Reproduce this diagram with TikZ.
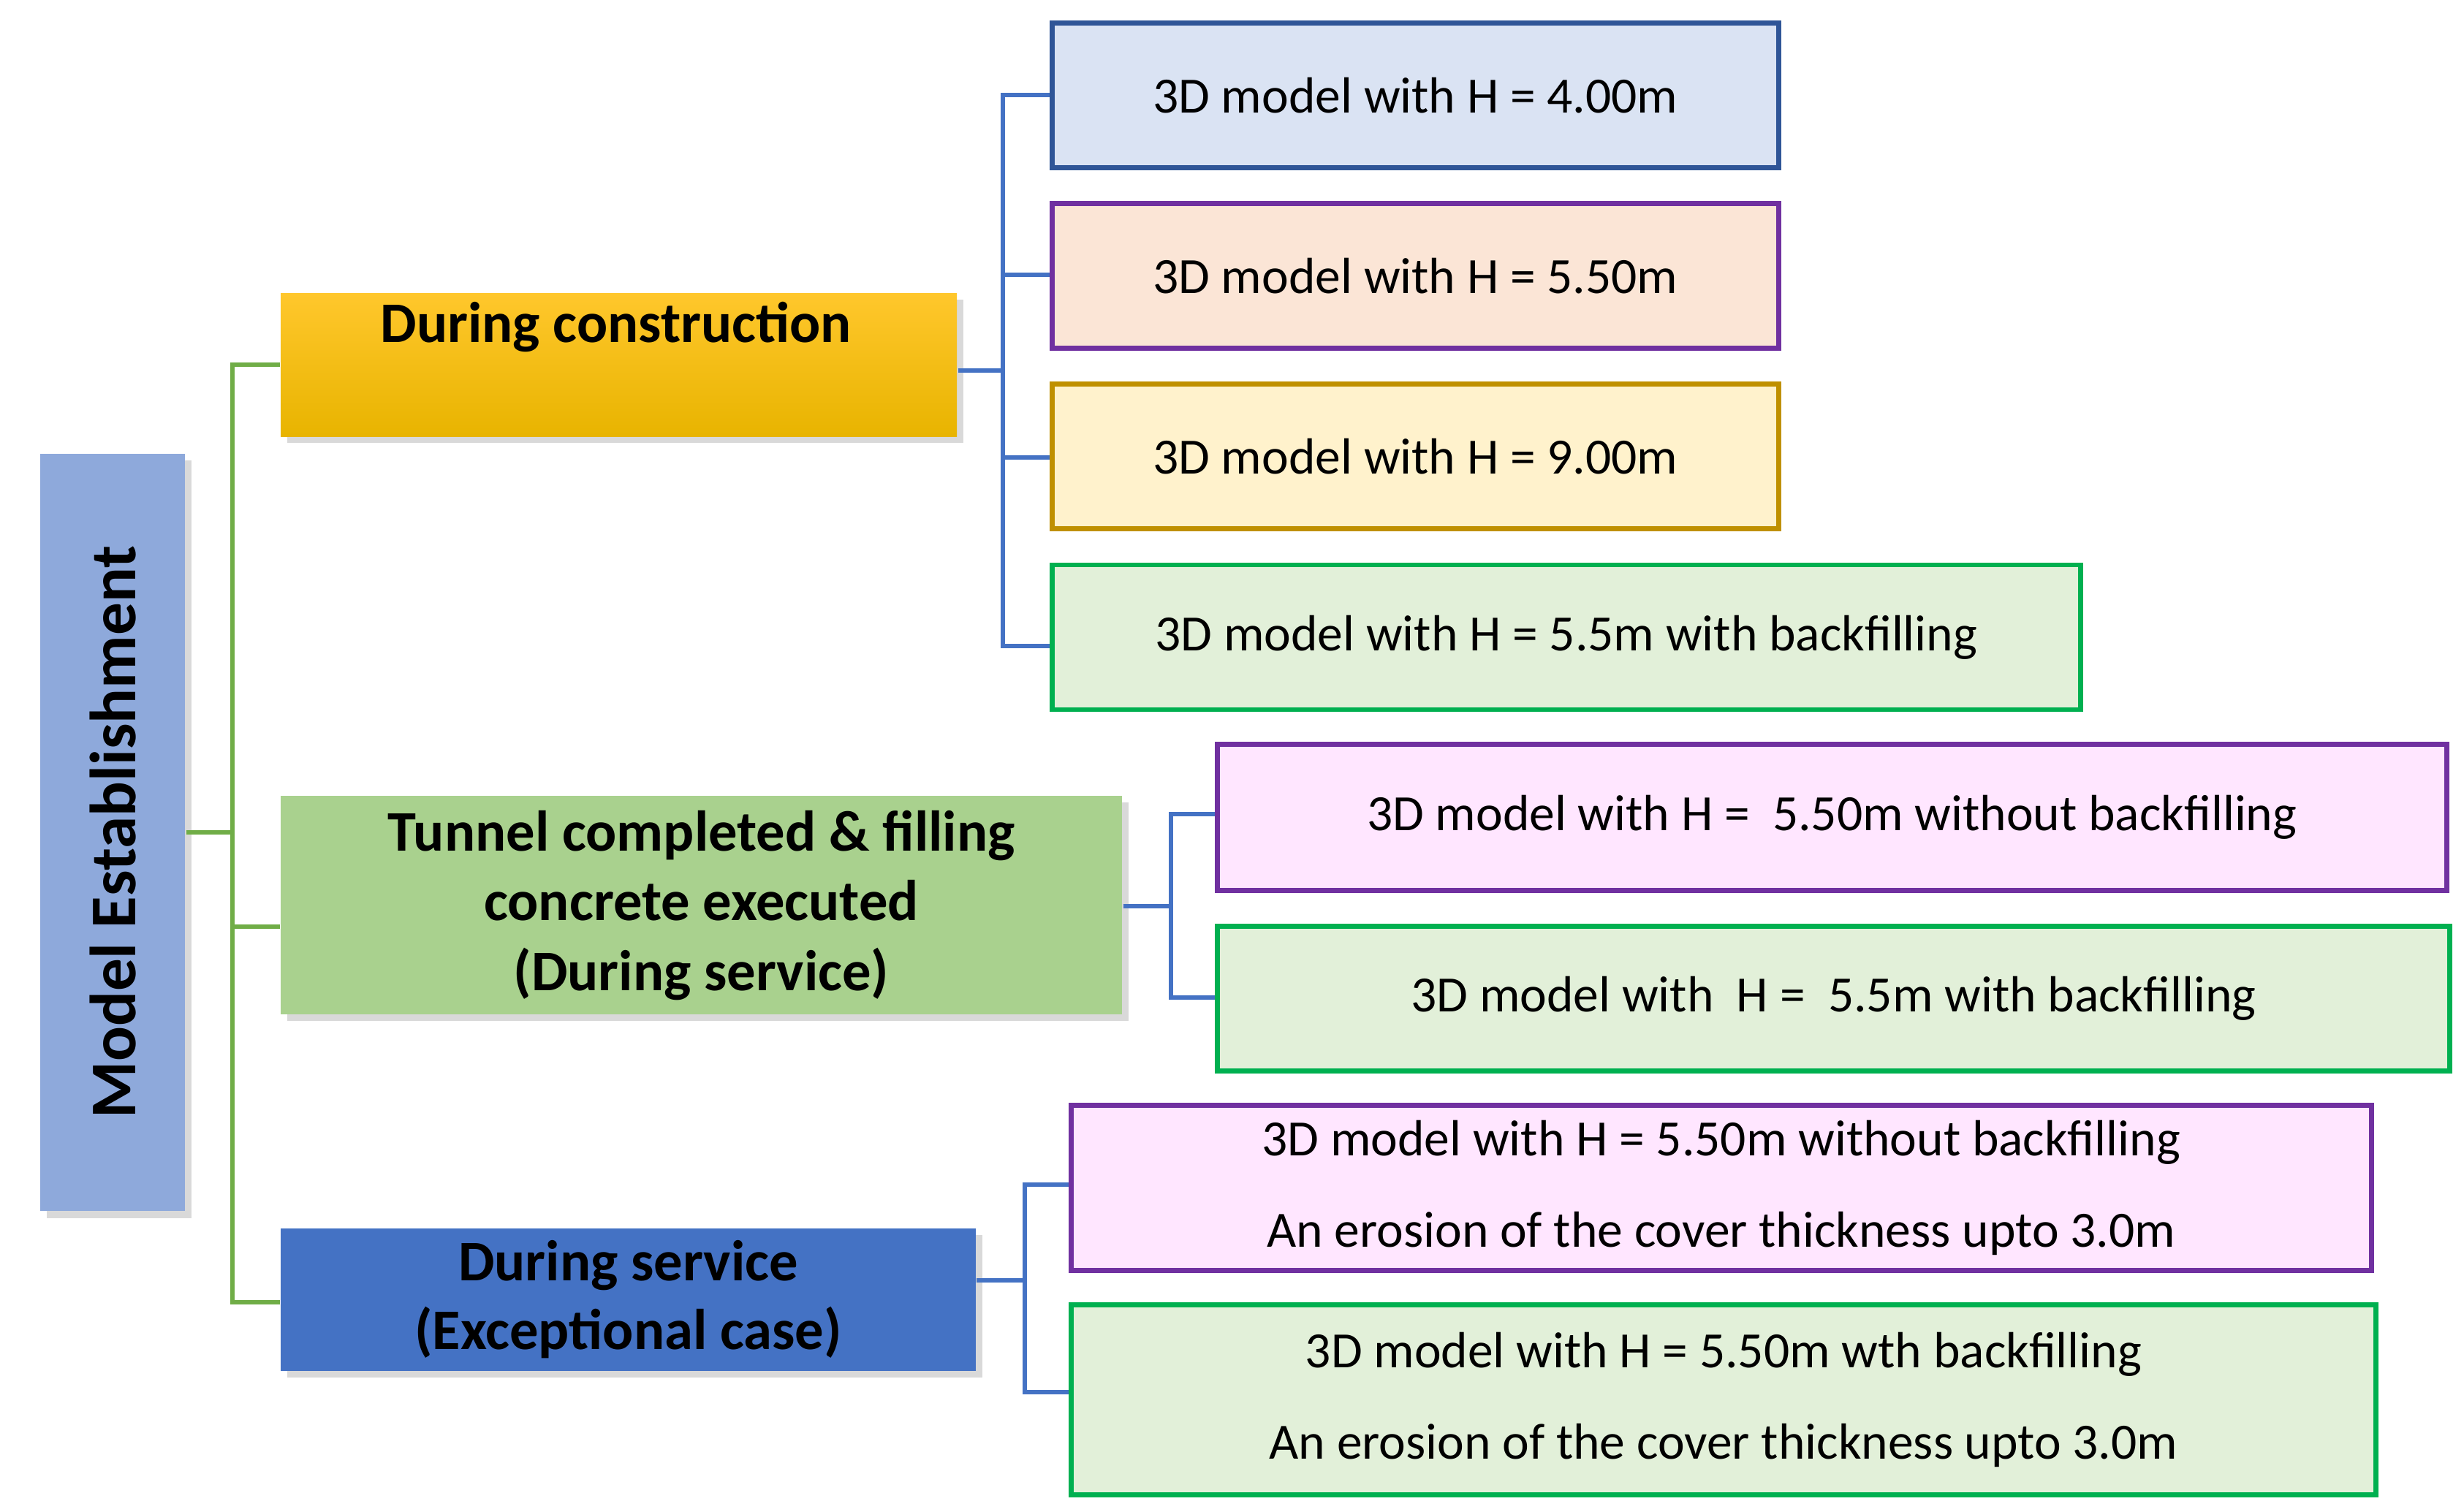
\documentclass[tikz,border=0pt]{standalone}
\usepackage{fontspec}
\setmainfont{Carlito}
\usetikzlibrary{shadows}
\definecolor{gline}{HTML}{70AD47}
\definecolor{bline}{HTML}{4472C4}
\definecolor{cme}{HTML}{8EA9DB}
\definecolor{cdct}{HTML}{FFC72C}
\definecolor{cdcb}{HTML}{E8B400}
\definecolor{ctc}{HTML}{A9D18E}
\definecolor{cds}{HTML}{4472C4}
\definecolor{dblue}{HTML}{2F5597}
\definecolor{lblue}{HTML}{DAE3F3}
\definecolor{purp}{HTML}{7030A0}
\definecolor{lorange}{HTML}{FBE5D6}
\definecolor{dgold}{HTML}{BF9000}
\definecolor{lyellow}{HTML}{FFF2CC}
\definecolor{grn}{HTML}{00B050}
\definecolor{lgreen}{HTML}{E2F0D9}
\definecolor{lpink}{HTML}{FFE6FF}
\begin{document}
\begin{tikzpicture}[x=0.01cm,y=-0.01cm,
  lbox/.style={anchor=north west,inner sep=0,drop shadow={shadow xshift=1.2pt,shadow yshift=-1.2pt,opacity=0.3}},
  rbox/.style={draw,line width=0.9pt,anchor=north west,inner sep=0,font=\fontsize{9.2}{11}\selectfont},
  gl/.style={gline,line width=0.8pt},
  bl/.style={bline,line width=0.8pt}]
\useasboundingbox (0,0) rectangle (1568,962);
\node[lbox,fill=cme,minimum width=0.92cm,minimum height=4.82cm] (me) at (25,288) {};
\node[rotate=90,font=\bfseries\fontsize{11.8}{14}\selectfont] at (me.center) {Model Establishment};
\node[lbox,top color=cdct,bottom color=cdcb,minimum width=4.30cm,minimum height=0.91cm] (dc) at (178,186) {};
\node[font=\bfseries\fontsize{10.4}{12}\selectfont] at (392,208) {During construction};
\node[lbox,fill=ctc,minimum width=5.35cm,minimum height=1.39cm,font=\bfseries\fontsize{10.4}{12.6}\selectfont,align=center] (tc) at (178,506) {Tunnel completed \& filling\\concrete executed\\(During service)};
\node[lbox,fill=cds,minimum width=4.42cm,minimum height=0.91cm,font=\bfseries\fontsize{10.4}{12.4}\selectfont,align=center] (ds) at (178,781) {During service\\(Exceptional case)};
\node[rbox,draw=dblue,fill=lblue,minimum width=4.62cm,minimum height=0.92cm] (b1) at (668,13) {3D model with H = 4.00m};
\node[rbox,draw=purp,fill=lorange,minimum width=4.62cm,minimum height=0.92cm] (b2) at (668,128) {3D model with H = 5.50m};
\node[rbox,draw=dgold,fill=lyellow,minimum width=4.62cm,minimum height=0.92cm] (b3) at (668,243) {3D model with H = 9.00m};
\node[rbox,draw=grn,fill=lgreen,minimum width=6.54cm,minimum height=0.92cm] (b4) at (668,358) {3D model with H = 5.5m with backfilling};
\node[rbox,draw=purp,fill=lpink,minimum width=7.82cm,minimum height=0.93cm] (b5) at (773,472) {3D model with H = \ 5.50m without backfilling};
\node[rbox,draw=grn,fill=lgreen,minimum width=7.84cm,minimum height=0.92cm] (b6) at (773,588) {3D model with \ H = \ 5.5m with backfilling};
\node[rbox,draw=purp,fill=lpink,minimum width=8.27cm,minimum height=1.05cm,align=center,font=\fontsize{9.2}{16.5}\selectfont] (b7) at (680,702) {3D model with H = 5.50m without backfilling\\An erosion of the cover thickness upto 3.0m};
\node[rbox,draw=grn,fill=lgreen,minimum width=8.30cm,minimum height=1.21cm,align=center,font=\fontsize{9.2}{16.5}\selectfont] (b8) at (680,829) {3D model with H = 5.50m wth backfilling\\An erosion of the cover thickness upto 3.0m};
\coordinate (gx) at (148,0);
\draw[gl] (me.east) -- (gx |- me.east);
\draw[gl] (dc.west |- 0,232) -| (148,829) -- (ds.west |- 0,829);
\draw[gl] (148,590) -- (tc.west |- 0,590);
\draw[bl] (dc.east |- 0,236) -- (638,236);
\draw[bl] (b1.west) -| (638,411) -- (b4.west |- 0,411);
\draw[bl] (638,175) -- (b2.west |- 0,175);
\draw[bl] (638,291) -- (b3.west |- 0,291);
\draw[bl] (tc.east |- 0,577) -- (745,577);
\draw[bl] (b5.west |- 0,518) -| (745,635) -- (b6.west |- 0,635);
\draw[bl] (ds.east |- 0,815) -- (652,815);
\draw[bl] (b7.west |- 0,754) -| (652,886) -- (b8.west |- 0,886);
\end{tikzpicture}
\end{document}
